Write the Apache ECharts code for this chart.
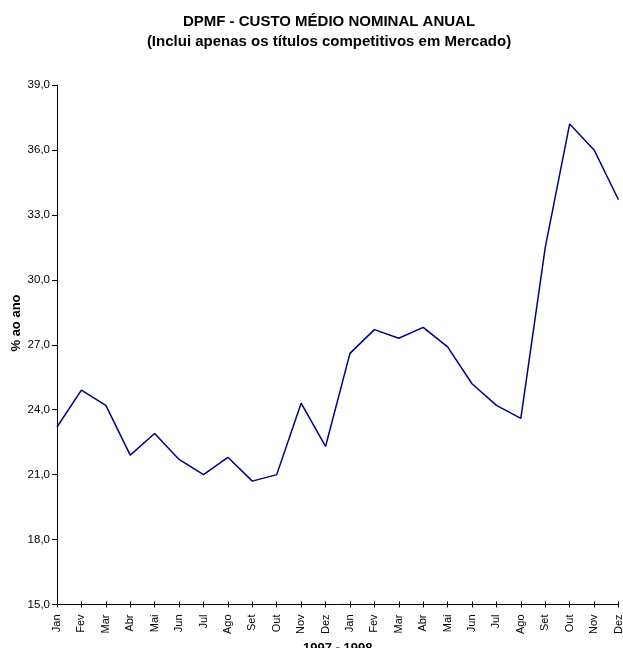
<!DOCTYPE html>
<html>
<head>
<meta charset="utf-8">
<script src="https://cdn.jsdelivr.net/npm/echarts@6/dist/echarts.min.js"></script>
<style>
  html, body { margin: 0; padding: 0; background: #fff; }
  #chart { width: 623px; height: 648px; }
</style>
</head>
<body>
<div id="chart"></div>
<script>
// Months of 1997 followed by months of 1998
const months = ['Jan', 'Fev', 'Mar', 'Abr', 'Mai', 'Jun', 'Jul', 'Ago', 'Set', 'Out', 'Nov', 'Dez',
                'Jan', 'Fev', 'Mar', 'Abr', 'Mai', 'Jun', 'Jul', 'Ago', 'Set', 'Out', 'Nov', 'Dez'];

// Average nominal cost, % per year
const custoMedio = [23.2, 24.9, 24.2, 21.9, 22.9, 21.7, 21.0, 21.8, 20.7, 21.0, 24.3, 22.3,
                    26.6, 27.7, 27.3, 27.8, 26.9, 25.2, 24.2, 23.6, 31.5, 37.2, 36.0, 33.7];

const yMin = 15, yMax = 39, yStep = 3;

const titleText = 'DPMF - CUSTO MÉDIO NOMINAL ANUAL';
const subtitleText = '(Inclui apenas os títulos competitivos em Mercado)';
const xName = '1997 - 1998';
const yName = '% ao ano';

const font = '"Liberation Sans", Arial, sans-serif';
const chart = echarts.init(document.getElementById('chart'), null, { renderer: 'canvas' });

chart.setOption({
  animation: false,
  backgroundColor: '#ffffff',
  grid: { left: 57, right: 4.5, top: 85, bottom: 43.5, containLabel: false, outerBoundsMode: 'none' },
  graphic: [
    { type: 'text', x: 329, y: 22,
      style: { text: titleText, font: 'bold 15px ' + font, fill: '#000', textAlign: 'center', textVerticalAlign: 'middle' } },
    { type: 'text', x: 329, y: 42,
      style: { text: subtitleText, font: 'bold 15px ' + font, fill: '#000', textAlign: 'center', textVerticalAlign: 'middle' } },
    { type: 'text', x: 16, y: 323, rotation: Math.PI / 2,
      style: { text: yName, font: 'bold 13px ' + font, fill: '#000', textAlign: 'center', textVerticalAlign: 'middle' } }
  ],
  xAxis: [
    {
      type: 'category',
      data: months,
      boundaryGap: false,
      position: 'bottom',
      axisLine: { show: true, lineStyle: { color: '#000', width: 1 } },
      axisTick: { show: true, inside: false, length: 3, lineStyle: { color: '#000' }, interval: 0 },
      axisLabel: { show: true, rotate: 90, interval: 0, margin: 10, color: '#000', fontSize: 11, fontFamily: font },
      splitLine: { show: false },
      name: xName,
      nameLocation: 'middle',
      nameGap: 34,
      nameTextStyle: { color: '#000', fontSize: 13, fontWeight: 'bold', fontFamily: font }
    },
    {
      type: 'category',
      data: months,
      boundaryGap: false,
      position: 'bottom',
      offset: 0,
      axisLine: { show: false },
      axisTick: { show: true, inside: true, length: 3, lineStyle: { color: '#000' }, interval: 0 },
      axisLabel: { show: false },
      splitLine: { show: false }
    }
  ],
  yAxis: {
    type: 'value',
    min: yMin,
    max: yMax,
    interval: yStep,
    axisLine: { show: true, lineStyle: { color: '#000', width: 1 } },
    axisTick: { show: true, inside: false, length: 5, lineStyle: { color: '#000' } },
    axisLabel: { color: '#000', fontSize: 11.5, fontFamily: font, margin: 7,
                 formatter: v => v.toFixed(1).replace('.', ',') },
    splitLine: { show: false }
  },
  series: [{
    type: 'line',
    data: custoMedio,
    xAxisIndex: 0,
    showSymbol: false,
    symbol: 'none',
    lineStyle: { color: '#000080', width: 1.5 },
    itemStyle: { color: '#000080' }
  }]
});
</script>
</body>
</html>
